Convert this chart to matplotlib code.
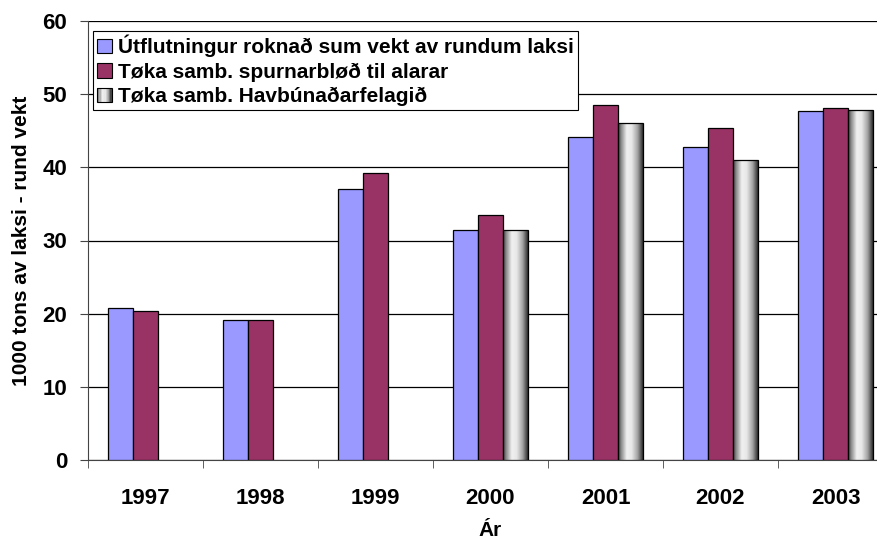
import matplotlib.pyplot as plt
import numpy as np
from matplotlib.patches import Rectangle
from matplotlib.legend_handler import HandlerBase
from matplotlib.colors import LinearSegmentedColormap

plt.rcParams['font.family'] = ['Liberation Sans', 'DejaVu Sans']
plt.rcParams['font.weight'] = 'bold'

# data
years = ['1997', '1998', '1999', '2000', '2001', '2002', '2003']
utflutningur = [20.8, 19.1, 37.0, 31.4, 44.1, 42.8, 47.7]
spurnarblod = [20.4, 19.2, 39.2, 33.5, 48.5, 45.4, 48.1]
havbunadar = [None, None, None, 31.5, 46.1, 41.0, 47.9]
labels = ['Útflutningur roknað sum vekt av rundum laksi',
          'Tøka samb. spurnarbløð til alarar',
          'Tøka samb. Havbúnaðarfelagið']

# metallic grey gradient (left to right)
grad = LinearSegmentedColormap.from_list(
    'metal', [(0.0, '#3a3a3a'), (0.12, '#8a8a8a'), (0.35, '#f0f0f0'),
              (0.55, '#e8e8e8'), (0.8, '#a0a0a0'), (1.0, '#303030')])


class GradientHandler(HandlerBase):
    def create_artists(self, legend, orig_handle, xdescent, ydescent,
                       width, height, fontsize, trans):
        arts = []
        n = 12
        for i in range(n):
            r = Rectangle((-xdescent + width * i / n, -ydescent), width / n, height,
                          facecolor=grad((i + 0.5) / n), edgecolor='none',
                          transform=trans)
            arts.append(r)
        arts.append(Rectangle((-xdescent, -ydescent), width, height,
                              facecolor='none', edgecolor='black', lw=0.8,
                              transform=trans))
        return arts


fig = plt.figure(figsize=(8.77, 5.44), dpi=100)
ax = fig.add_axes([88 / 877, 1 - 460 / 544, 805 / 877, 439 / 544])

x = np.arange(len(years))
w = 0.217
ax.bar(x - w, utflutningur, w, color='#9999FF', edgecolor='black', lw=0.9,
       label=labels[0], zorder=3)
ax.bar(x, spurnarblod, w, color='#993366', edgecolor='black', lw=0.9,
       label=labels[1], zorder=3)

img = np.linspace(0, 1, 64).reshape(1, -1)
for xi, v in zip(x, havbunadar):
    if v is None:
        continue
    left = xi + w / 2
    im = ax.imshow(img, cmap=grad, aspect='auto', extent=(left, left + w, 0, v),
                   zorder=3, interpolation='bilinear')
    rect = Rectangle((left, 0), w, v, facecolor='none', edgecolor='black',
                     lw=0.9, zorder=4)
    ax.add_patch(rect)
    im.set_clip_path(rect)

ax.set_xlim(-0.5, 6.5)
ax.set_ylim(0, 60)
ax.set_yticks(range(0, 61, 10))
ax.yaxis.grid(True, color='black', lw=0.9, zorder=0)
ax.set_axisbelow(True)

ax.set_xticks(x)
ax.set_xticklabels(years)
ax.set_xticks(np.arange(-0.5, 7, 1), minor=True)
ax.tick_params(axis='x', which='major', length=0, pad=20, labelsize=16)
ax.tick_params(axis='x', which='minor', length=6, direction='out', color='#444444')
ax.tick_params(axis='y', length=6, direction='out', labelsize=16, pad=9,
               color='#444444')

for s in ['top', 'right']:
    ax.spines[s].set_visible(False)
ax.spines['left'].set_color('#444444')
ax.spines['bottom'].set_color('#444444')

ax.set_xlabel('Ár', fontsize=15, fontweight='bold', labelpad=9)
ax.set_ylabel('1000 tons av laksi - rund vekt', fontsize=15, fontweight='bold',
              labelpad=8)

gray_proxy = Rectangle((0, 0), 1, 1)
h1 = Rectangle((0, 0), 1, 1, facecolor='#9999FF', edgecolor='black', lw=0.8)
h2 = Rectangle((0, 0), 1, 1, facecolor='#993366', edgecolor='black', lw=0.8)
leg = ax.legend([h1, h2, gray_proxy], labels, loc='upper left',
                bbox_to_anchor=(0.006, 0.978), fontsize=15, frameon=True,
                fancybox=False, edgecolor='black', framealpha=1,
                handlelength=0.7, handleheight=0.7, handletextpad=0.3,
                borderpad=0.2, labelspacing=0.25, borderaxespad=0,
                handler_map={gray_proxy: GradientHandler()})
leg.get_frame().set_linewidth(0.8)
leg.set_zorder(5)

fig.savefig('out.png', dpi=100)
